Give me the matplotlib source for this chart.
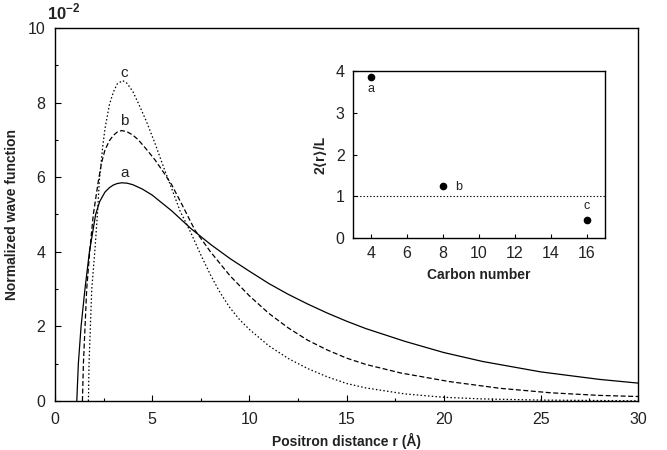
import matplotlib
matplotlib.use("Agg")
import matplotlib.pyplot as plt

plt.rcParams['font.family'] = ['Liberation Sans', 'DejaVu Sans']
plt.rcParams['mathtext.fontset'] = 'custom'
plt.rcParams['mathtext.rm'] = 'Liberation Sans:bold'
plt.rcParams['mathtext.bf'] = 'Liberation Sans:bold'

# Curve a (solid)
a_x = [1.12, 1.20, 1.34, 1.54, 1.77, 2.09, 2.30, 2.57, 2.80, 3.00, 3.20, 3.43, 3.70, 4.00, 4.50,
       5.00, 6.00, 7.00, 8.00, 9.00, 10.0, 11.0, 12.0, 13.0, 14.0, 15.0, 16.0, 18.0, 20.0,
       22.0, 25.0, 28.0, 30.0]
a_y = [0.00, 1.00, 2.00, 3.00, 4.00, 5.00, 5.35, 5.60, 5.72, 5.79, 5.83, 5.85, 5.84, 5.80, 5.68,
       5.52, 5.10, 4.62, 4.20, 3.82, 3.48, 3.15, 2.86, 2.60, 2.36, 2.14, 1.94, 1.60, 1.30,
       1.06, 0.78, 0.58, 0.48]

# Curve b (dashed)
b_x = [1.41, 1.46, 1.63, 1.80, 1.97, 2.23, 2.40, 2.57, 2.80, 3.00, 3.20, 3.43, 3.70, 4.00, 4.29,
       4.70, 5.15, 5.60, 6.00, 6.50, 7.20, 8.00, 9.00, 10.0, 11.0, 12.0, 13.0, 14.0, 15.0,
       16.0, 17.8, 20.3, 22.9, 25.5, 28.0, 30.0]
b_y = [0.00, 1.00, 3.00, 4.10, 5.00, 5.90, 6.40, 6.73, 6.98, 7.12, 7.21, 7.25, 7.22, 7.13, 7.00,
       6.75, 6.46, 6.12, 5.80, 5.30, 4.58, 4.00, 3.36, 2.82, 2.35, 1.96, 1.63, 1.37, 1.15,
       0.98, 0.75, 0.52, 0.34, 0.22, 0.15, 0.12]

# Curve c (dotted)
c_x = [1.72, 1.75, 1.89, 2.06, 2.18, 2.28, 2.45, 2.57, 2.80, 3.00, 3.20, 3.48, 3.70, 4.00, 4.29,
       4.70, 5.15, 5.60, 6.00, 6.43, 7.00, 7.50, 8.00, 8.50, 9.00, 9.50, 10.0, 11.0, 12.0, 13.0,
       14.0, 15.0, 16.0, 18.0, 20.0, 22.0, 25.0, 30.0]
c_y = [0.00, 1.00, 3.00, 4.10, 5.00, 5.90, 6.80, 7.30, 7.95, 8.28, 8.50, 8.59, 8.52, 8.30, 7.98,
       7.50, 6.90, 6.25, 5.70, 5.10, 4.50, 3.92, 3.38, 2.90, 2.50, 2.18, 1.92, 1.48, 1.14, 0.87,
       0.65, 0.47, 0.35, 0.19, 0.10, 0.055, 0.025, 0.005]

labels = ['a', 'b', 'c']
peak_label_x = [3.6, 3.57, 3.57]
peak_label_y = [6.1, 7.5, 8.8]

# Inset data
carbon = [4, 8, 16]
ratio = [3.86, 1.25, 0.43]

fig = plt.figure(figsize=(6.67, 4.5), dpi=100)
ax = fig.add_axes([0.0825, 0.1089, 0.874, 0.8289])

ax.plot(a_x, a_y, color='black', lw=0.9, ls='-')
ax.plot(b_x, b_y, color='black', lw=0.9, ls=(0, (4, 2)))
ax.plot(c_x, c_y, color='black', lw=0.9, ls=(0, (1.2, 1.8)))
for lx, ly, t in zip(peak_label_x, peak_label_y, labels):
    ax.text(lx, ly, t, ha='center', va='center', fontsize=11, color='#222222')

ax.set_xlim(0, 30)
ax.set_ylim(0, 10)
ax.set_xticks([0, 5, 10, 15, 20, 25, 30])
ax.set_xticks([2.5, 7.5, 12.5, 17.5, 22.5, 27.5], minor=True)
ax.set_yticks([0, 2, 4, 6, 8, 10])
ax.set_yticks([1, 3, 5, 7, 9], minor=True)
ax.tick_params(direction='in', which='major', length=4, width=0.8, labelsize=11.5,
               labelcolor='#222222')
ax.tick_params(axis='y', which='major', pad=7)
ax.tick_params(axis='x', which='major', pad=8)
ax.tick_params(direction='in', which='minor', length=2.5, width=0.8)
for s in ax.spines.values():
    s.set_linewidth(1.0)
ax.set_xlabel('Positron distance r (Å)', fontsize=10, fontweight='bold', labelpad=4,
              color='#222222')
ax.set_ylabel('Normalized wave function', fontsize=10, fontweight='bold', labelpad=6,
              color='#222222')
fig.text(0.071, 0.950, r'$10^{-2}$', fontsize=12, ha='left', va='bottom', color='#222222')

# Inset
ins = fig.add_axes([0.529, 0.471, 0.378, 0.371])
ins.plot(carbon, ratio, 'o', color='black', ms=4.5)
ins.axhline(1.0, color='black', lw=0.8, ls=(0, (1.2, 1.8)))
ins.text(4, 3.56, 'a', ha='center', va='center', fontsize=9, color='#222222')
ins.text(8.9, 1.23, 'b', ha='center', va='center', fontsize=9, color='#222222')
ins.text(16, 0.76, 'c', ha='center', va='center', fontsize=9, color='#222222')
ins.set_xlim(3, 17)
ins.set_ylim(0, 4)
ins.set_xticks([4, 6, 8, 10, 12, 14, 16])
ins.set_yticks([0, 1, 2, 3, 4])
ins.tick_params(direction='in', length=3, width=0.8, labelsize=11.5, labelcolor='#222222',
                pad=6)
for s in ins.spines.values():
    s.set_linewidth(1.0)
ins.set_xlabel('Carbon number', fontsize=10, fontweight='bold', labelpad=5, color='#222222')
ins.set_ylabel('2⟨r⟩/L', fontsize=10, fontweight='bold', labelpad=6, color='#222222')

fig.savefig('out.png', dpi=100)
